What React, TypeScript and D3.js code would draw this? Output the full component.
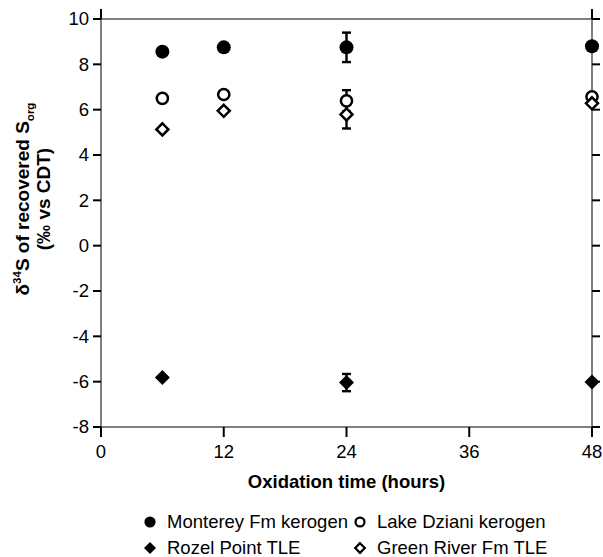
import React from "react";
import * as d3 from "d3";

const xTicks = [0, 12, 24, 36, 48];
const yTicks = [-8, -6, -4, -2, 0, 2, 4, 6, 8, 10];

const montereyX = [6, 12, 24, 48];
const montereyY = [8.56, 8.75, 8.75, 8.8];
const montereyErr = [0, 0, 0.65, 0];

const dzianiX = [6, 12, 24, 48];
const dzianiY = [6.5, 6.67, 6.39, 6.57];
const dzianiErr = [0, 0, 0.47, 0];

const greenX = [6, 12, 24, 48];
const greenY = [5.13, 5.95, 5.79, 6.28];
const greenErr = [0, 0, 0.62, 0];

const rozelX = [6, 24, 48];
const rozelY = [-5.82, -6.04, -6.01];
const rozelErr = [0, 0.38, 0];

const legendLabels = ["Monterey Fm kerogen", "Lake Dziani kerogen", "Rozel Point TLE", "Green River Fm TLE"];

const FONT = "Liberation Sans, Arial, sans-serif";

type Kind = "circleFilled" | "circleOpen" | "diamondFilled" | "diamondOpen";

function Marker({ kind, x, y, s = 1 }: { kind: Kind; x: number; y: number; s?: number }) {
  if (kind === "circleFilled") return <circle cx={x} cy={y} r={7 * s} fill="#000" />;
  if (kind === "circleOpen")
    return <circle cx={x} cy={y} r={5.6 * s} fill="#fff" stroke="#000" strokeWidth={2.5 * Math.max(s, 0.9)} />;
  const d = kind === "diamondFilled" ? 7.5 * s : 6 * s;
  const p = `M${x},${y - d}L${x + d},${y}L${x},${y + d}L${x - d},${y}Z`;
  if (kind === "diamondFilled") return <path d={p} fill="#000" />;
  return <path d={p} fill="#fff" stroke="#000" strokeWidth={2.5 * Math.max(s, 0.9)} />;
}

export default function App() {
  const W = 603, H = 557;
  const x = d3.scaleLinear().domain([0, 48]).range([101, 592]);
  const y = d3.scaleLinear().domain([-8, 10]).range([427, 19]);
  const x0 = x(0), x1 = x(48), y0 = y(-8), y1 = y(10);
  const tl = 8;

  const series: { kind: Kind; xs: number[]; ys: number[]; es: number[] }[] = [
    { kind: "circleFilled", xs: montereyX, ys: montereyY, es: montereyErr },
    { kind: "circleOpen", xs: dzianiX, ys: dzianiY, es: dzianiErr },
    { kind: "diamondOpen", xs: greenX, ys: greenY, es: greenErr },
    { kind: "diamondFilled", xs: rozelX, ys: rozelY, es: rozelErr },
  ];

  const legend: { kind: Kind; label: string; lx: number; ly: number }[] = [
    { kind: "circleFilled", label: legendLabels[0], lx: 150, ly: 522 },
    { kind: "circleOpen", label: legendLabels[1], lx: 360, ly: 522 },
    { kind: "diamondFilled", label: legendLabels[2], lx: 150, ly: 548 },
    { kind: "diamondOpen", label: legendLabels[3], lx: 360, ly: 548 },
  ];

  return (
    <svg width={W} height={H} style={{ position: "absolute", left: 0, top: 0 }} fontFamily={FONT}>
      <rect width={W} height={H} fill="#fff" />
      <g stroke="#555" strokeWidth={1.5} fill="none">
        <line x1={x0} y1={y0} x2={x1} y2={y0} />
        <line x1={x0} y1={y1} x2={x1} y2={y1} />
        <line x1={x0} y1={y0} x2={x0} y2={y1} />
        <line x1={x1} y1={y0} x2={x1} y2={y1} />
      </g>
      <g stroke="#000" strokeWidth={2}>
        {yTicks.map((t) => (
          <line key={"yl" + t} x1={x0 - tl} x2={x0} y1={y(t)} y2={y(t)} />
        ))}
        {yTicks.map((t) => (
          <line key={"yr" + t} x1={x1} x2={x1 + tl} y1={y(t)} y2={y(t)} />
        ))}
        {xTicks.map((t) => (
          <line key={"xb" + t} x1={x(t)} x2={x(t)} y1={y0} y2={y0 + tl + 2} />
        ))}
        {[0, 48].map((t) => (
          <line key={"xt" + t} x1={x(t)} x2={x(t)} y1={y1 - tl - 2} y2={y1} />
        ))}
      </g>
      <g fontSize={18.5} fill="#000">
        {yTicks.map((t) => (
          <text key={"yt" + t} x={x0 - 12} y={y(t)} dy="0.35em" textAnchor="end">
            {t}
          </text>
        ))}
        {xTicks.map((t) => (
          <text key={"xt" + t} x={x(t)} y={y0 + 31} textAnchor="middle">
            {t}
          </text>
        ))}
      </g>
      <text x={(x0 + x1) / 2} y={488} textAnchor="middle" fontWeight="bold" fontSize={18.5}>
        Oxidation time (hours)
      </text>
      <g transform="translate(29,199) rotate(-90)" fontWeight="bold" fontSize={19} textAnchor="middle">
        <text x={0} y={0}>
          δ<tspan fontSize={11.5} dy={-8}>34</tspan>
          <tspan dy={8}>S of recovered S</tspan>
          <tspan fontSize={11.5} dy={5}>org</tspan>
        </text>
        <text x={0} y={21}>(‰ vs CDT)</text>
      </g>
      <g stroke="#000" strokeWidth={2.4}>
        {series.map((s, si) =>
          s.xs.map((xv, i) =>
            s.es[i] > 0 ? (
              <g key={`e${si}-${i}`}>
                <line x1={x(xv)} x2={x(xv)} y1={y(s.ys[i] - s.es[i])} y2={y(s.ys[i] + s.es[i])} />
                <line x1={x(xv) - 4.5} x2={x(xv) + 4.5} y1={y(s.ys[i] - s.es[i])} y2={y(s.ys[i] - s.es[i])} />
                <line x1={x(xv) - 4.5} x2={x(xv) + 4.5} y1={y(s.ys[i] + s.es[i])} y2={y(s.ys[i] + s.es[i])} />
              </g>
            ) : null
          )
        )}
      </g>
      {series.map((s, si) =>
        s.xs.map((xv, i) => <Marker key={`m${si}-${i}`} kind={s.kind} x={x(xv)} y={y(s.ys[i])} />)
      )}
      {legend.map((l) => (
        <g key={l.label}>
          <Marker kind={l.kind} x={l.lx} y={l.ly} s={0.8} />
          <text x={l.lx + 17} y={l.ly} dy="0.35em" fontSize={18.5}>
            {l.label}
          </text>
        </g>
      ))}
    </svg>
  );
}
